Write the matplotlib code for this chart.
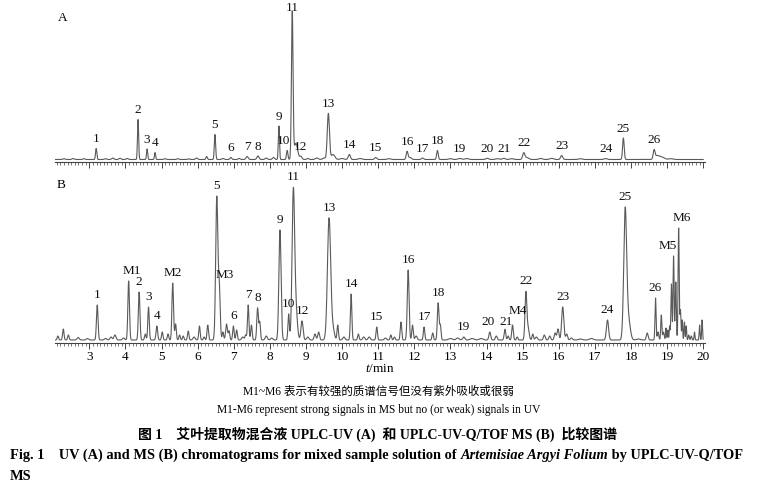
import numpy as np
import matplotlib
matplotlib.use("Agg")
import matplotlib.pyplot as plt
from matplotlib.ticker import MultipleLocator

# ---------------- data ----------------
# UPLC-UV chromatogram (panel A): peak retention times (min), heights (rel.), widths (sigma, min)
uv_time = [2.30, 2.55, 2.85, 3.19, 3.45, 3.65, 3.85, 4.05, 4.35, 4.60, 4.82, 5.10, 5.45, 5.75,
           5.97, 6.25, 6.48, 6.70, 6.92, 7.15, 7.37, 7.67, 7.90, 8.10, 8.25, 8.48, 8.62, 8.72,
           8.86, 9.05, 9.30, 9.50, 9.62, 9.75, 10.00, 10.20, 10.50, 10.93, 11.30, 11.80, 11.88,
           12.23, 12.64, 13.00, 13.26, 13.45, 14.02, 14.30, 14.48, 14.70, 15.03, 15.12, 15.50,
           15.80, 16.08, 16.60, 17.30, 17.79, 18.64, 18.72, 18.85, 19.10]
uv_height = [0.8, 1.0, 0.8, 11, 0.8, 1.5, 1.2, 1.0, 40, 10.5, 7, 0.8, 0.8, 0.6,
             1.5, 3, 25, 1, 2, 1, 3, 3.5, 1.5, 2, 33.5, 9, 146, 16,
             3, 1, 1.5, 1.5, 46, 5, 1, 5, 1, 2, 0.8, 8, 2,
             1.5, 9, 0.8, 1, 1, 1.2, 0.8, 1.2, 0.8, 6.5, 2, 1,
             1.2, 4, 0.8, 1, 21.5, 8.5, 3.5, 2.5, 0.8]
uv_width = [0.03, 0.03, 0.03, 0.018, 0.03, 0.03, 0.03, 0.03, 0.016, 0.016, 0.016, 0.03, 0.03, 0.03,
            0.03, 0.02, 0.018, 0.03, 0.025, 0.03, 0.03, 0.03, 0.03, 0.03, 0.016, 0.02, 0.022, 0.05,
            0.03, 0.03, 0.04, 0.04, 0.03, 0.05, 0.05, 0.03, 0.05, 0.03, 0.05, 0.025, 0.04,
            0.03, 0.022, 0.05, 0.05, 0.05, 0.04, 0.05, 0.04, 0.05, 0.03, 0.05, 0.05,
            0.05, 0.03, 0.05, 0.04, 0.022, 0.025, 0.06, 0.07, 0.06]
uv_label_names = [str(i) for i in range(1, 27)]
uv_label_times = [3.19, 4.35, 4.60, 4.82, 6.48, 6.92, 7.37, 7.67, 8.25, 8.48, 8.62, 8.86, 9.62,
                  10.20, 10.93, 11.80, 12.23, 12.64, 13.26, 14.02, 14.48, 15.03, 16.08, 17.30,
                  17.79, 18.64]

# UPLC-Q/TOF MS chromatogram (panel B)
ms_time = [2.13, 2.28, 2.42, 2.69, 2.95, 3.22, 3.45, 3.60, 3.71, 3.95, 4.09, 4.38, 4.55, 4.64,
           4.87, 5.02, 5.18, 5.31, 5.39, 5.50, 5.60, 5.74, 5.90, 6.05, 6.18, 6.28, 6.53, 6.60,
           6.70, 6.80, 6.87, 6.99, 7.08, 7.25, 7.33, 7.40, 7.49, 7.66, 7.72, 7.90, 8.05, 8.28,
           8.52, 8.65, 8.72, 8.89, 9.05, 9.25, 9.35, 9.64, 9.75, 9.88, 10.05, 10.25, 10.45,
           10.60, 10.75, 10.96, 11.20, 11.35, 11.45, 11.63, 11.83, 11.95, 12.05, 12.27, 12.51,
           12.66, 12.72, 13.00, 13.20, 13.37, 13.60, 13.85, 14.09, 14.27, 14.51, 14.60, 14.72,
           14.85, 15.09, 15.15, 15.28, 15.38, 15.60, 15.75, 15.90, 15.98, 16.11, 16.22, 16.35,
           16.60, 16.90, 17.35, 17.84, 17.93, 18.20, 18.45, 18.68, 18.75, 18.84, 18.90, 18.97,
           19.02, 19.07, 19.12, 19.18, 19.24, 19.32, 19.37, 19.42, 19.48, 19.53, 19.60, 19.67,
           19.76, 19.90, 19.97]
ms_height = [4, 11, 5, 2.5, 1.5, 35, 1.5, 3, 5, 2, 59, 48, 6, 33,
             14, 8, 6, 57, 16, 5, 4, 9, 3, 14, 3, 15, 143, 50,
             8, 16, 9, 14, 10, 3, 5, 35, 15, 32, 18, 4, 2, 110,
             26, 146, 30, 19, 3, 6, 8, 122, 10, 15, 3, 46, 6,
             3, 3, 13, 2, 5, 3, 18, 70, 15, 4, 13, 7,
             37, 15, 1.5, 2, 3, 1.5, 1.5, 8, 4, 10.7, 4, 15,
             3, 47, 12, 6, 3, 5, 4, 7, 11, 33, 6, 2,
             1, 1.5, 20, 129, 20, 1, 7, 42, 8, 25, 8, 12,
             10, 14, 56, 84, 58, 112, 30, 20, 18, 14, 5, 4,
             8, 15, 20]
ms_width = [0.02, 0.02, 0.02, 0.03, 0.03, 0.022, 0.03, 0.03, 0.03, 0.03, 0.022, 0.022, 0.02, 0.02,
            0.022, 0.02, 0.02, 0.022, 0.02, 0.02, 0.02, 0.02, 0.03, 0.02, 0.02, 0.02, 0.03, 0.025,
            0.02, 0.025, 0.02, 0.02, 0.02, 0.03, 0.02, 0.02, 0.02, 0.022, 0.02, 0.03, 0.03, 0.03,
            0.02, 0.035, 0.04, 0.03, 0.03, 0.025, 0.025, 0.045, 0.04, 0.02, 0.03, 0.02, 0.02,
            0.03, 0.03, 0.02, 0.03, 0.02, 0.02, 0.02, 0.025, 0.02, 0.03, 0.02, 0.02,
            0.022, 0.02, 0.05, 0.04, 0.03, 0.05, 0.05, 0.025, 0.025, 0.022, 0.02, 0.022,
            0.02, 0.025, 0.03, 0.02, 0.03, 0.025, 0.025, 0.025, 0.025, 0.03, 0.025, 0.03,
            0.05, 0.05, 0.03, 0.04, 0.05, 0.05, 0.025, 0.015, 0.02, 0.015, 0.02, 0.012,
            0.012, 0.012, 0.015, 0.015, 0.015, 0.015, 0.015, 0.012, 0.012, 0.012, 0.015, 0.015,
            0.012, 0.012, 0.012]
ms_label_names = ['1', 'M1', '2', '3', '4', 'M2', '5', 'M3', '6', '7', '8', '9', '10', '11', '12',
                  '13', '14', '15', '16', '17', '18', '19', '20', '21', 'M4', '22', '23', '24',
                  '25', '26', 'M5', 'M6']
ms_label_times = [3.22, 4.09, 4.38, 4.64, 4.87, 5.31, 6.53, 6.60, 6.99, 7.40, 7.66, 8.28, 8.52,
                  8.65, 8.89, 9.64, 10.25, 10.96, 11.83, 12.27, 12.66, 13.37, 14.09, 14.51, 14.72,
                  15.09, 16.11, 17.35, 17.84, 18.68, 19.18, 19.32]

x_ticks = list(range(3, 21))

# ---------------- style ----------------
W, H = 759, 499
SERIF = ['Liberation Serif', 'Noto Sans CJK SC', 'DejaVu Sans']
plt.rcParams['font.family'] = SERIF
plt.rcParams['mathtext.fontset'] = 'custom'
plt.rcParams['mathtext.rm'] = 'Liberation Serif'
plt.rcParams['mathtext.it'] = 'Liberation Serif:italic'
LINE = '#5a5a5a'
# label offsets in points (dx, dy)
label_off_A = {'10': (-3, 2.5), '11': (0, -1.5)}
label_off_B = {'M1': (2, 3), 'M3': (4, 0), 'M5': (-4, 3), 'M6': (2, 3),
               '20': (-1, 3), '21': (0.5, 1), 'M4': (3.5, 6)}

fig = plt.figure(figsize=(W / 100, H / 100), dpi=100)
fig.patch.set_facecolor('white')

t = np.linspace(2.05, 20.0, 6000)


def trace(times, heights, widths):
    y = np.zeros_like(t)
    for c, h, w in zip(times, heights, widths):
        y += h * np.exp(-0.5 * ((t - c) / w) ** 2)
    return y


def px_axes(left, top, right, bottom):
    return fig.add_axes([left / W, 1 - bottom / H, (right - left) / W, (bottom - top) / H])


def style_axes(ax, show_labels):
    ax.set_xlim(2.05, 20.05)
    for s in ('left', 'right', 'top'):
        ax.spines[s].set_visible(False)
    ax.spines['bottom'].set_color('#444444')
    ax.spines['bottom'].set_linewidth(0.8)
    ax.set_yticks([])
    ax.set_xticks(x_ticks)
    ax.xaxis.set_minor_locator(MultipleLocator(0.1))
    ax.tick_params(axis='x', which='major', length=4, width=0.7, color='#444444',
                   direction='out', pad=1.5, labelsize=9.5, labelbottom=show_labels)
    ax.tick_params(axis='x', which='minor', length=2, width=0.5, color='#444444', direction='out')


# Panel A
axA = px_axes(55, 5, 705, 162.3)
yA = trace(uv_time, uv_height, uv_width)
axA.plot(t, yA, color=LINE, lw=0.8)
axA.set_ylim(-2.8, 154.5)
style_axes(axA, False)
for name, tm in zip(uv_label_names, uv_label_times):
    v = np.interp(tm, t, yA)
    dx, dy = label_off_A.get(name, (0, 2.5))
    axA.annotate(name, (tm, v), xytext=(dx, dy), textcoords='offset points',
                 ha='center', va='bottom', fontsize=9.5, color='#111111', annotation_clip=False)

# Panel B
axB = px_axes(55, 180, 705, 343)
yB = trace(ms_time, ms_height, ms_width)
axB.plot(t, yB, color=LINE, lw=0.8)
axB.set_ylim(-3, 160)
style_axes(axB, True)
for name, tm in zip(ms_label_names, ms_label_times):
    v = np.interp(tm, t, yB)
    dx, dy = label_off_B.get(name, (0, 3))
    axB.annotate(name, (tm, v), xytext=(dx, dy), textcoords='offset points',
                 ha='center', va='bottom', fontsize=9.5, color='#111111', annotation_clip=False)

fig.text(58 / W, 1 - 18 / H, 'A', fontsize=9.5, va='center', ha='left')
fig.text(57 / W, 1 - 185 / H, 'B', fontsize=9.5, va='center', ha='left')
fig.text(380 / W, 1 - 369 / H, '$t$/min', fontsize=9.5, ha='center', va='center')

# Captions
fig.text(378 / W, 1 - 392 / H, 'M1~M6 表示有较强的质谱信号但没有紫外吸收或很弱',
         fontsize=8.3, ha='center', va='center', family=SERIF)
fig.text(379 / W, 1 - 410 / H, 'M1-M6 represent strong signals in MS but no (or weak) signals in UV',
         fontsize=8.3, ha='center', va='center')
fig.text(378 / W, 1 - 434 / H, '图 1    艾叶提取物混合液 UPLC-UV (A)  和 UPLC-UV-Q/TOF MS (B)  比较图谱',
         fontsize=10, ha='center', va='center', fontweight='bold', family=SERIF)

renderer = fig.canvas.get_renderer()
parts = [('Fig. 1    UV (A) and MS (B) chromatograms for mixed sample solution of ', 'normal'),
         ('Artemisiae Argyi Folium', 'italic'),
         (' by UPLC-UV-Q/TOF', 'normal')]
x = 10 / W
for txt, st in parts:
    tt = fig.text(x, 1 - 455 / H, txt, fontsize=10.4, ha='left', va='center',
                  fontweight='bold', fontstyle=st)
    bb = tt.get_window_extent(renderer=renderer)
    x = bb.x1 / W
fig.text(10 / W, 1 - 476 / H, 'MS', fontsize=10.4, ha='left', va='center', fontweight='bold')

fig.savefig('out.png', dpi=100, facecolor='white')
